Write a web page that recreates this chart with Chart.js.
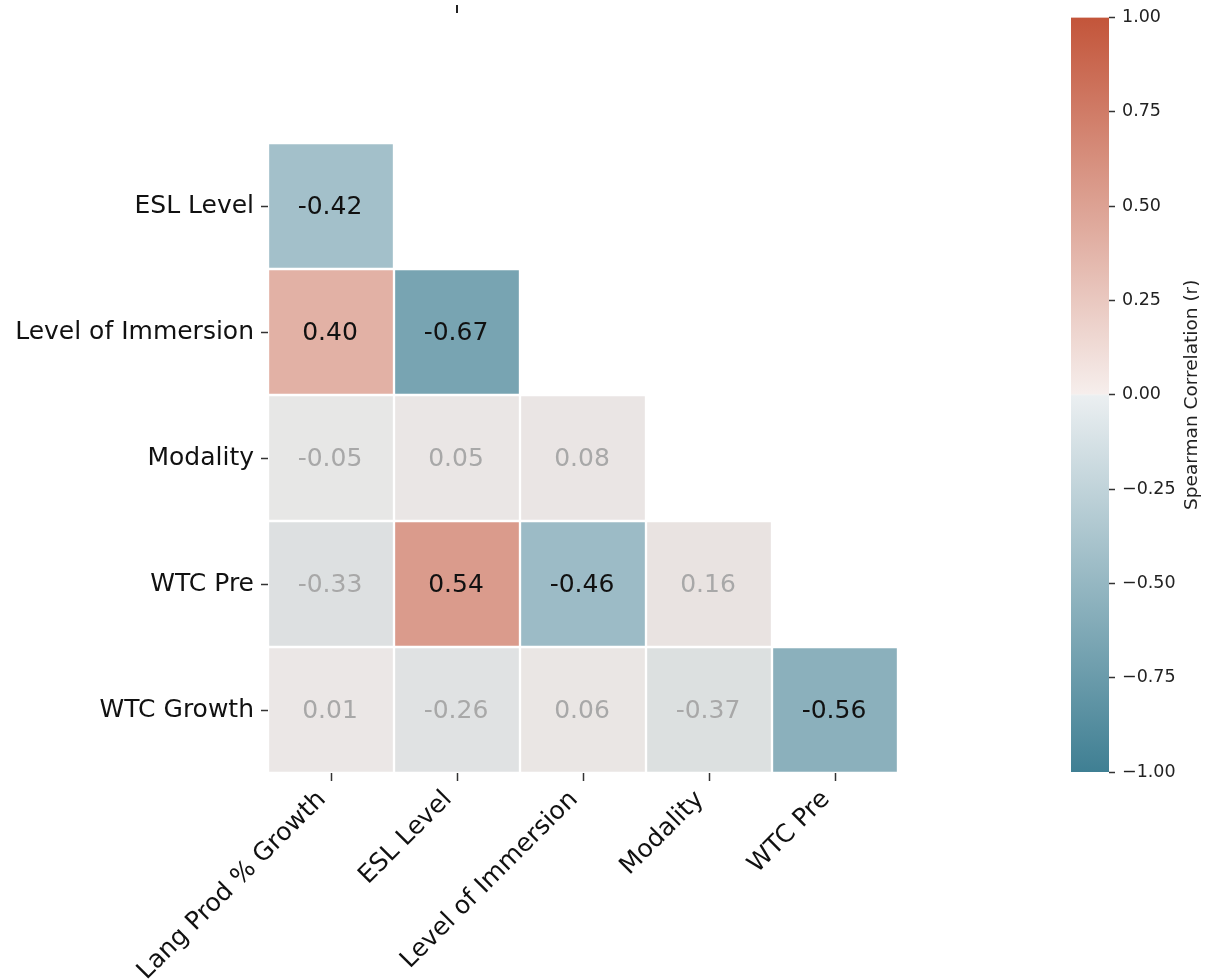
<!DOCTYPE html>
<html>
<head>
<meta charset="utf-8">
<script src="https://cdn.jsdelivr.net/npm/chart.js@4.4.1/dist/chart.umd.min.js"></script>
<style>
  html, body { margin: 0; padding: 0; background: #ffffff; }
  body { width: 1207px; height: 979px; position: relative; overflow: hidden; }
  #heat { position: absolute; left: 0; top: 0; }
  #bar { position: absolute; left: 1000px; top: 0; }
</style>
</head>
<body>
<canvas id="heat" width="920" height="979"></canvas>
<canvas id="bar" width="207" height="979"></canvas>
<script>
// Variables on each axis of the lower-triangle correlation matrix
const columnLabels = ['Lang Prod % Growth', 'ESL Level', 'Level of Immersion', 'Modality', 'WTC Pre'];
const rowLabels = ['ESL Level', 'Level of Immersion', 'Modality', 'WTC Pre', 'WTC Growth'];

// Spearman r, one array per row (lower triangle only)
const eslLevelRow = [-0.42];
const immersionRow = [0.40, -0.67];
const modalityRow = [-0.05, 0.05, 0.08];
const wtcPreRow = [-0.33, 0.54, -0.46, 0.16];
const wtcGrowthRow = [0.01, -0.26, 0.06, -0.37, -0.56];

// Whether each correlation is significant (drawn at full colour, black text)
const eslLevelSig = [true];
const immersionSig = [true, true];
const modalitySig = [false, false, false];
const wtcPreSig = [false, true, true, false];
const wtcGrowthSig = [false, false, false, false, true];

// Colour bar tick values
const colorbarTicks = [-1, -0.75, -0.5, -0.25, 0, 0.25, 0.5, 0.75, 1];

const rowValues = [eslLevelRow, immersionRow, modalityRow, wtcPreRow, wtcGrowthRow];
const rowSig = [eslLevelSig, immersionSig, modalitySig, wtcPreSig, wtcGrowthSig];

// Diverging blue–red palette
const NEG_END = [63, 127, 147];
const NEG_NEAR = [235, 239, 241];
const MID = [242, 242, 242];
const POS_NEAR = [246, 238, 236];
const POS_END = [195, 85, 58];
const MUTED = [232, 230, 229];

function lerp(a, b, t) { return a.map((v, i) => v + (b[i] - v) * t); }
function rgb(c) { return 'rgb(' + c.map(v => Math.round(v)).join(',') + ')'; }
function cmap(v) {
  if (v < 0) return lerp(NEG_NEAR, NEG_END, Math.min(1, -v));
  if (v > 0) return lerp(POS_NEAR, POS_END, Math.min(1, v));
  return MID;
}
function cellColor(v, sig) {
  const c = cmap(v);
  return rgb(sig ? c : lerp(c, MUTED, 0.8));
}

const FONT = "'DejaVu Sans', sans-serif";

// One floating-bar dataset per row; each bar spans one row band on the y scale
const datasets = rowValues.map((vals, r) => ({
  label: rowLabels[r],
  data: columnLabels.map((_, c) => c < vals.length ? [r - 0.5, r + 0.5] : null),
  backgroundColor: columnLabels.map((_, c) => c < vals.length ? cellColor(vals[c], rowSig[r][c]) : 'rgba(0,0,0,0)'),
  borderColor: '#ffffff',
  borderWidth: 1.5,
  borderSkipped: false,
  grouped: false,
  categoryPercentage: 1,
  barPercentage: 1
}));

// Writes the r value in the middle of each cell
const cellText = {
  id: 'cellText',
  afterDatasetsDraw(chart) {
    const ctx = chart.ctx;
    ctx.save();
    ctx.font = '25px ' + FONT;
    ctx.textAlign = 'center';
    ctx.textBaseline = 'middle';
    rowValues.forEach((vals, r) => {
      const meta = chart.getDatasetMeta(r);
      vals.forEach((v, c) => {
        const el = meta.data[c];
        const cy = (el.y + el.base) / 2;
        ctx.fillStyle = rowSig[r][c] ? '#111111' : '#a8a8a8';
        ctx.fillText(v.toFixed(2), el.x - 1, cy + 1);
      });
    });
    // small stray tick above the plot
    ctx.fillStyle = '#222222';
    ctx.fillRect(456, 5, 2, 8);
    ctx.restore();
  }
};

new Chart(document.getElementById('heat'), {
  type: 'bar',
  data: { labels: columnLabels, datasets },
  options: {
    responsive: false,
    animation: false,
    devicePixelRatio: 1,
    layout: { padding: { top: 143, right: 22, bottom: 0, left: 0 } },
    plugins: { legend: { display: false }, tooltip: { enabled: false } },
    scales: {
      x: {
        type: 'category',
        offset: true,
        grid: { display: true, offset: false, drawOnChartArea: false, drawTicks: true, tickLength: 8, tickWidth: 1.5, tickColor: '#333333' },
        border: { display: false },
        ticks: { font: { family: FONT, size: 25 }, color: '#111111', minRotation: 45, maxRotation: 45, autoSkip: false, padding: 4, labelOffset: -9 },
        afterFit: s => { s.height = 206; }
      },
      y: {
        type: 'linear',
        min: -0.5,
        max: 4.5,
        reverse: true,
        grid: { display: true, drawOnChartArea: false, drawTicks: true, tickLength: 7, tickWidth: 1.5, tickColor: '#333333' },
        border: { display: false },
        afterBuildTicks: s => { s.ticks = rowLabels.map((_, i) => ({ value: i })); },
        ticks: { font: { family: FONT, size: 25 }, color: '#111111', padding: 7, autoSkip: false, callback: v => rowLabels[v] },
        afterFit: s => { s.width = 268; }
      }
    }
  },
  plugins: [cellText]
});

// Colour bar: one floating bar from -1 to 1 filled with the palette gradient
const barTitle = {
  id: 'barTitle',
  afterDraw(chart) {
    const { ctx, chartArea } = chart;
    ctx.save();
    ctx.translate(192, (chartArea.top + chartArea.bottom) / 2);
    ctx.rotate(-Math.PI / 2);
    ctx.font = '18.5px ' + FONT;
    ctx.fillStyle = '#222222';
    ctx.textAlign = 'center';
    ctx.textBaseline = 'middle';
    ctx.fillText('Spearman Correlation (r)', 0, 0);
    ctx.restore();
  }
};

new Chart(document.getElementById('bar'), {
  type: 'bar',
  data: {
    labels: ['r'],
    datasets: [{
      data: [[colorbarTicks[0], colorbarTicks[colorbarTicks.length - 1]]],
      borderWidth: 0,
      categoryPercentage: 1,
      barPercentage: 1,
      backgroundColor: (context) => {
        const area = context.chart.chartArea;
        if (!area) return rgb(MID);
        const g = context.chart.ctx.createLinearGradient(0, area.bottom, 0, area.top);
        g.addColorStop(0, rgb(NEG_END));
        g.addColorStop(0.4985, rgb(NEG_NEAR));
        g.addColorStop(0.5, rgb(MID));
        g.addColorStop(0.5015, rgb(POS_NEAR));
        g.addColorStop(1, rgb(POS_END));
        return g;
      }
    }]
  },
  options: {
    responsive: false,
    animation: false,
    devicePixelRatio: 1,
    layout: { padding: { top: 16, right: 0, bottom: 207, left: 71 } },
    plugins: { legend: { display: false }, tooltip: { enabled: false } },
    scales: {
      x: { display: false },
      y: {
        type: 'linear',
        position: 'right',
        min: -1,
        max: 1,
        grid: { display: true, drawOnChartArea: false, drawTicks: true, tickLength: 6, tickWidth: 1.5, tickColor: '#333333' },
        border: { display: false },
        afterBuildTicks: s => { s.ticks = colorbarTicks.map(v => ({ value: v })); },
        ticks: {
          font: { family: FONT, size: 17.5 },
          color: '#222222',
          padding: 7,
          autoSkip: false,
          callback: v => (v < 0 ? '\u2212' : '') + Math.abs(v).toFixed(2)
        },
        afterFit: s => { s.width = 98; }
      }
    }
  },
  plugins: [barTitle]
});
</script>
</body>
</html>
